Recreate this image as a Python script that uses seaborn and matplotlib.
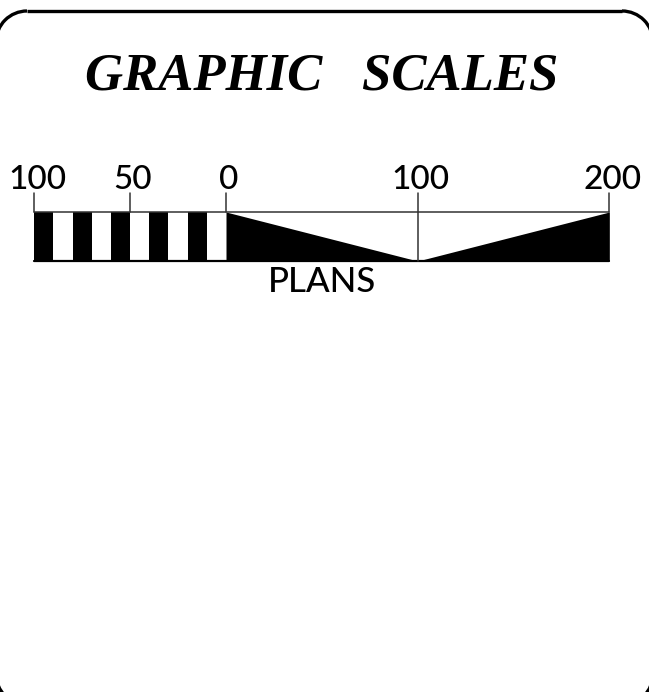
#!/usr/bin/env python3
"""Graphic scale bar (plans) redrawn with seaborn / matplotlib."""

import matplotlib.pyplot as plt
import seaborn as sns
from matplotlib.patches import Arc

sns.set_theme(style="white", context="paper")

# scale data (units along the bar)
block_starts = [-100, -90, -80, -70, -60, -50, -40, -30, -20, -10]
block_fill = ["black", "white", "black", "white", "black",
              "white", "black", "white", "black", "white"]
block_width = 10
tick_values = [-100, -50, 0, 100, 200]
tick_labels = ["100", "50", "0", "100", "200"]
wedge_left_x = [0, 100]
wedge_right_x = [100, 200]
title = "GRAPHIC   SCALES"
caption = "PLANS"

# pixel-ish vertical layout
BAR_TOP, BAR_BOTTOM, TICK_TOP = 212, 261, 193
PX_PER_UNIT = 575 / 300
X0 = 226  # pixel position of zero
W, H = 649, 692


def draw_frame(fig):
    """Rounded border in pixel coordinates; sides and bottom run off canvas."""
    fax = fig.add_axes([0, 0, 1, 1])
    fax.set_xlim(0, W)
    fax.set_ylim(H, 0)
    fax.axis("off")
    left, right, top, bottom, r = -4, W + 4, 11, 705, 31
    kw = dict(color="black", lw=2.4, solid_capstyle="butt")
    fax.plot([left + r, right - r], [top, top], **kw)
    fax.plot([left + r, right - r], [bottom, bottom], **kw)
    fax.plot([left, left], [top + r, bottom - r], **kw)
    fax.plot([right, right], [top + r, bottom - r], **kw)
    # angles are in data space (y grows downwards on screen)
    corners = [((left + r, top + r), 180, 270), ((right - r, top + r), 270, 360),
               ((left + r, bottom - r), 90, 180), ((right - r, bottom - r), 0, 90)]
    for (cx, cy), t1, t2 in corners:
        fax.add_patch(Arc((cx, cy), 2 * r, 2 * r, theta1=t1, theta2=t2,
                          color="black", lw=2.4))


def main():
    fig = plt.figure(figsize=(W / 100, H / 100), dpi=100)
    draw_frame(fig)

    ax = fig.add_axes([0, 0, 1, 1])
    ax.set_xlim(-X0 / PX_PER_UNIT, (W - X0) / PX_PER_UNIT)
    ax.set_ylim(H, 0)
    ax.axis("off")

    ax.text(50, 90, title, ha="center", va="baseline", fontsize=38,
            fontweight="bold", fontstyle="italic", family="Liberation Serif",
            color="black")

    # checker blocks
    ax.bar(block_starts, BAR_BOTTOM - BAR_TOP, width=block_width,
           bottom=BAR_TOP, align="edge", color=block_fill, lw=0)

    # wedges
    ax.fill_between(wedge_left_x, [BAR_TOP, BAR_BOTTOM], BAR_BOTTOM,
                    color="black", lw=0)
    ax.fill_between(wedge_right_x, [BAR_BOTTOM, BAR_TOP], BAR_BOTTOM,
                    color="black", lw=0)

    # outline lines
    ax.plot([tick_values[0], tick_values[-1]], [BAR_TOP, BAR_TOP],
            color="#333333", lw=1.1)
    ax.plot([tick_values[0], tick_values[-1]], [BAR_BOTTOM, BAR_BOTTOM],
            color="black", lw=1.6)
    for v in tick_values:
        y_end = BAR_BOTTOM if v == 100 else BAR_TOP
        ax.plot([v, v], [TICK_TOP, y_end], color="#333333", lw=1.1)

    for v, lab in zip(tick_values, tick_labels):
        ax.text(v + 1.5, 189, lab, ha="center", va="baseline", fontsize=24,
                family="Lato", fontweight="medium", color="black")

    ax.text(50, 292, caption, ha="center", va="baseline", fontsize=25,
            family="Lato", fontweight="medium", color="black")

    fig.savefig("out.png", dpi=100, facecolor="white")
    plt.close(fig)


if __name__ == "__main__":
    main()
